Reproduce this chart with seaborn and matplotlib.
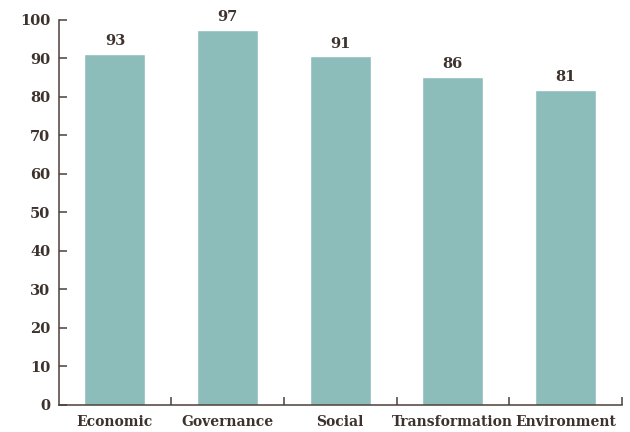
import numpy as np
import pandas as pd
import matplotlib
matplotlib.use('Agg')
import matplotlib.pyplot as plt
from matplotlib.ticker import FixedLocator
import seaborn as sns

# ============================================================
# Data (bar heights as drawn, labels as printed)
# ============================================================
categories = ['Economic', 'Governance', 'Social', 'Transformation', 'Environment']
values = [91.2, 97.4, 90.6, 85.2, 81.8]
value_labels = ['93', '97', '91', '86', '81']
y_ticks = [0, 10, 20, 30, 40, 50, 60, 70, 80, 90, 100]

BAR_COLOR = '#8cbdbb'
AXIS_COLOR = '#4b3f39'
TEXT_COLOR = '#3d322d'
FS = 10.5
FS_X = 10

sns.set_theme(style='white')
plt.rcParams['font.family'] = ['DejaVu Serif']
plt.rcParams['font.weight'] = 'bold'

df = pd.DataFrame({'category': categories, 'value': values})

fig = plt.figure(figsize=(6.3, 4.32), dpi=100)
ax = fig.add_axes([0.093, 0.0625, 0.894, 0.8915])

sns.barplot(data=df, x='category', y='value', color=BAR_COLOR,
            saturation=1, width=0.54, ax=ax)

for patch, lab in zip(ax.patches, value_labels):
    ax.annotate(lab, (patch.get_x() + patch.get_width() / 2, patch.get_height()),
                xytext=(0, 4), textcoords='offset points',
                ha='center', va='bottom', fontsize=FS, fontweight='bold',
                color=TEXT_COLOR)

ax.set_xlim(-0.5, len(categories) - 0.5)
ax.set_ylim(0, 100)
ax.set_yticks(y_ticks)
ax.set_xlabel('')
ax.set_ylabel('')

# x ticks sit on the category boundaries
ax.xaxis.set_minor_locator(FixedLocator(np.arange(0.5, len(categories), 1.0)))
ax.tick_params(axis='both', which='both', bottom=True, left=True)
ax.tick_params(axis='x', which='major', length=0, pad=7,
               labelsize=FS_X, labelcolor=TEXT_COLOR)
ax.tick_params(axis='x', which='minor', direction='in', length=6,
               width=1.1, color=AXIS_COLOR)
ax.tick_params(axis='y', direction='in', length=6, width=1.1,
               color=AXIS_COLOR, pad=6, labelsize=FS, labelcolor=TEXT_COLOR)

for side in ['top', 'right']:
    ax.spines[side].set_visible(False)
for side in ['left', 'bottom']:
    ax.spines[side].set_color(AXIS_COLOR)
    ax.spines[side].set_linewidth(1.1)

for lab in ax.get_xticklabels() + ax.get_yticklabels():
    lab.set_fontweight('bold')

fig.savefig('out.png', dpi=100)
